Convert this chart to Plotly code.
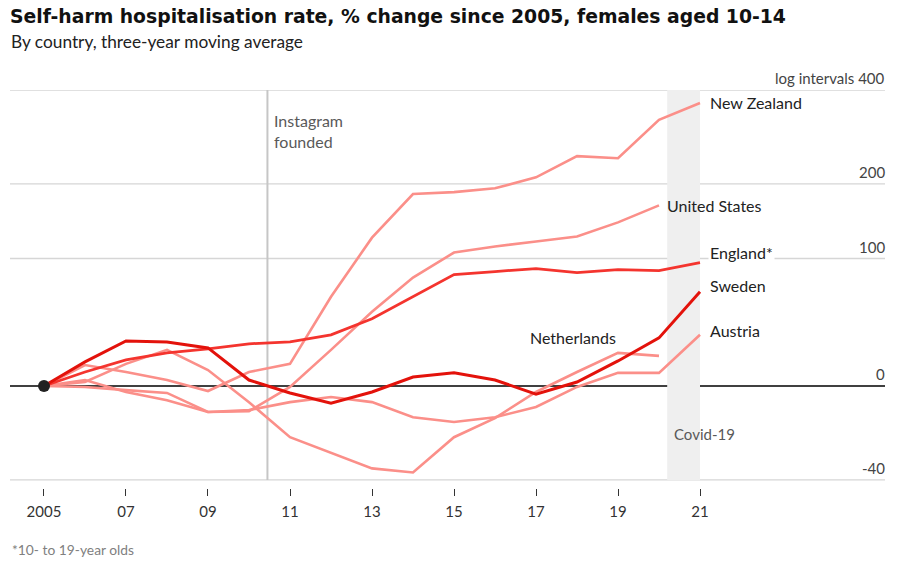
import numpy as np
import plotly.graph_objects as go

years = list(range(2005, 2022))
new_zealand = [0, 12.1, 7.9, 3.3, -2.7, 7.9, 12.8, 62.5, 124, 184, 187, 193, 211, 249, 245, 325, 366]
united_states = [0, 3.3, -3.2, -7.4, -13.2, -12.8, -0.5, 21.7, 49.7, 80.3, 106.6, 113.5, 119.4, 125.5, 143.4, 167.0]
netherlands = [0, 2.2, 12.8, 21.7, 9.1, -8.4, -24.3, -30.6, -36.1, -37.5, -24.3, -16.0, -3.2, 7.9, 19.7, 17.8]
austria = [0, -0.5, -2.2, -3.7, -13.2, -12.3, -8.4, -5.8, -8.4, -15.6, -17.8, -15.6, -10.8, -0.5, 7.4, 7.4, 32.1]
england = [0, 7.9, 15.2, 19.7, 22.4, 25.8, 27.1, 32.1, 44.1, 62.5, 83.3, 86.3, 89.4, 85.3, 88.3, 87.3, 95.7]
sweden = [0, 14.0, 27.8, 27.1, 23.0, 3.3, -3.7, -8.9, -3.2, 5.0, 7.4, 3.3, -4.3, 2.2, 14.6, 29.9, 67.0]

y_ticks = [-40, 0, 100, 200, 400]
y_tick_text = ["-40", "0", "100", "200", "log intervals 400"]
x_ticks = [2005, 2007, 2009, 2011, 2013, 2015, 2017, 2019, 2021]
x_tick_text = ["2005", "07", "09", "11", "13", "15", "17", "19", "21"]

instagram_year = 2010.45
covid_start, covid_end = 2020.2, 2021.0

FONT = "Lato"
LIGHT = "#fb8f89"
ENGLAND = "#f4342e"
SWEDEN = "#e3120b"


def ratio(vals):
    return [1 + v / 100 for v in vals]


fig = go.Figure()

series = [
    ("New Zealand", new_zealand, LIGHT, 2.6),
    ("United States", united_states, LIGHT, 2.6),
    ("Netherlands", netherlands, LIGHT, 2.6),
    ("Austria", austria, LIGHT, 2.6),
    ("England*", england, ENGLAND, 2.8),
    ("Sweden", sweden, SWEDEN, 3.0),
]

y_min_val = 1 + min(y_ticks) / 100
y_max_val = 1 + max(y_ticks) / 100
ylo = np.log10(y_min_val)
yhi = np.log10(y_max_val)

shapes = [
    dict(type="rect", xref="x", yref="y", x0=covid_start, x1=covid_end, y0=y_min_val, y1=y_max_val,
         fillcolor="#efefef", line=dict(width=0), layer="below"),
    dict(type="line", xref="x", yref="y", x0=instagram_year, x1=instagram_year, y0=y_min_val, y1=y_max_val,
         line=dict(color="#c6c6c6", width=2), layer="below"),
]
for v in y_ticks:
    if v == 0:
        continue
    shapes.append(dict(type="line", xref="paper", yref="y", x0=0, x1=1,
                       y0=1 + v / 100, y1=1 + v / 100,
                       line=dict(color="#d6d6d6", width=1.3), layer="below"))
shapes.append(dict(type="line", xref="paper", yref="y", x0=0, x1=1, y0=1, y1=1,
                   line=dict(color="#000000", width=1.3), layer="below"))

for name, vals, col, w in series:
    fig.add_trace(go.Scatter(x=years[:len(vals)], y=ratio(vals), mode="lines",
                             line=dict(color=col, width=w), name=name,
                             hoverinfo="skip", showlegend=False))

fig.add_trace(go.Scatter(x=[years[0]], y=[1 + sweden[0] / 100], mode="markers",
                         marker=dict(color="#222222", size=12), showlegend=False,
                         hoverinfo="skip"))

annotations = []
for v, t in zip(y_ticks, y_tick_text):
    annotations.append(dict(xref="paper", yref="y", x=1, y=np.log10(1 + v / 100),
                            text=t, showarrow=False, xanchor="right", yanchor="bottom",
                            yshift=1, xshift=2, font=dict(family=FONT, size=15, color="#444444")))

label_font = dict(family=FONT, size=16, color="#222222")
country_labels = [
    ("New Zealand", 2021, new_zealand[-1], 8, 0, None),
    ("United States", 2020, united_states[-1], 6, 0, None),
    ("England*", 2021, england[-1], 8, 10, "white"),
    ("Sweden", 2021, sweden[-1], 8, 6, None),
    ("Austria", 2021, austria[-1], 8, 4, None),
]
for t, xv, v, xs, ys, bg in country_labels:
    a = dict(xref="x", yref="y", x=xv, y=np.log10(1 + v / 100), text=t, showarrow=False,
             xanchor="left", yanchor="middle", xshift=xs, yshift=ys, font=label_font)
    if bg:
        a["bgcolor"] = bg
        a["borderpad"] = 1
    annotations.append(a)

annotations.append(dict(xref="x", yref="y", x=2019.0, y=np.log10(1 + netherlands[-2] / 100),
                        text="Netherlands", showarrow=False, xanchor="right", yanchor="bottom",
                        yshift=4, font=label_font))
annotations.append(dict(xref="x", yref="paper", x=instagram_year, y=(488 - 109) / 398,
                        text="Instagram<br>founded", showarrow=False, xanchor="left",
                        yanchor="top", xshift=5, align="left",
                        font=dict(family=FONT, size=16, color="#595959")))
annotations.append(dict(xref="x", yref="paper", x=covid_start, y=(488 - 434) / 398,
                        text="Covid-19", showarrow=False, xanchor="left", yanchor="middle",
                        xshift=5, font=dict(family=FONT, size=15, color="#595959")))

annotations.append(dict(xref="paper", yref="paper", x=0, y=(488 - 17) / 398,
                        text="<b>Self-harm hospitalisation rate, % change since 2005, females aged 10-14</b>",
                        showarrow=False, xanchor="left", yanchor="middle", xshift=-2,
                        font=dict(family="DejaVu Sans", size=18.8, color="#111111")))
annotations.append(dict(xref="paper", yref="paper", x=0, y=(488 - 42) / 398,
                        text="By country, three-year moving average",
                        showarrow=False, xanchor="left", yanchor="middle", xshift=-1,
                        font=dict(family=FONT, size=17.3, color="#222222")))
annotations.append(dict(xref="paper", yref="paper", x=0, y=(488 - 549) / 398,
                        text="*10- to 19-year olds",
                        showarrow=False, xanchor="left", yanchor="middle",
                        font=dict(family=FONT, size=13.8, color="#808080")))

fig.update_layout(
    width=898, height=566,
    margin=dict(l=10, r=13, t=90, b=78),
    paper_bgcolor="white", plot_bgcolor="white",
    shapes=shapes, annotations=annotations,
    xaxis=dict(range=[2004.171, 2025.512], tickvals=x_ticks, ticktext=x_tick_text,
               showgrid=False, zeroline=False, showline=False,
               ticks="outside", ticklen=7, tickwidth=1, tickcolor="#333333",
               ticklabelstandoff=3,
               tickfont=dict(family=FONT, size=15, color="#333333")),
    yaxis=dict(type="log", range=[ylo - 0.019, yhi],
               showticklabels=False, showgrid=False,
               zeroline=False, showline=False, ticks=""),
)

fig.write_html("out.html")
